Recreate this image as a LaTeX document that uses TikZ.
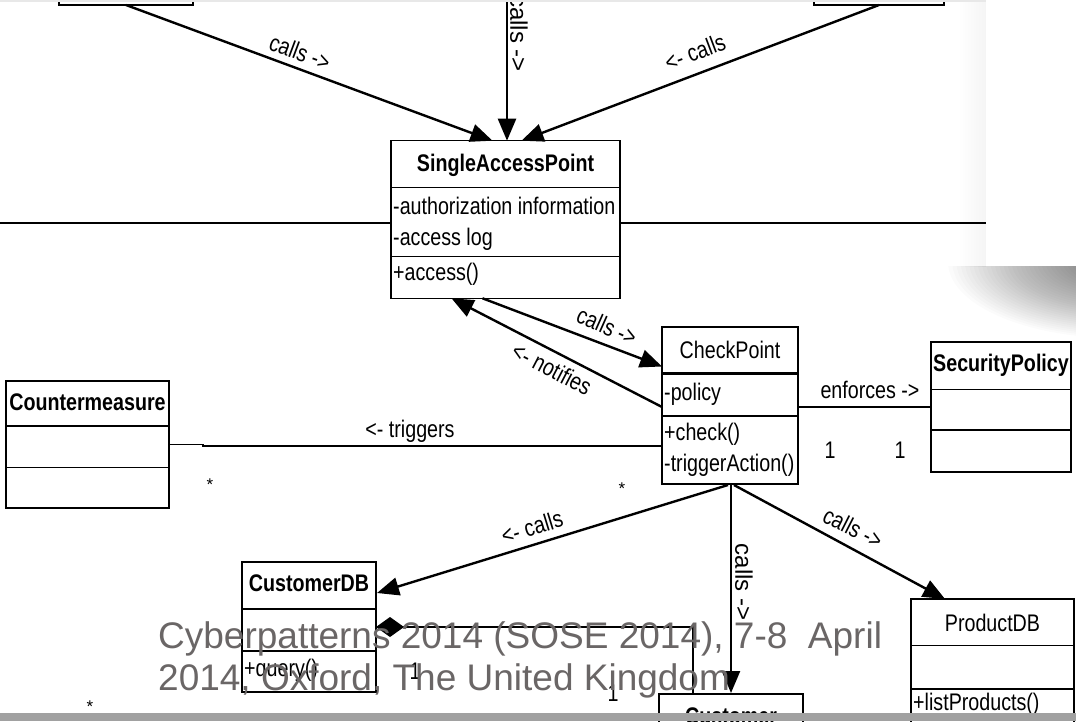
\documentclass[tikz,border=0pt]{standalone}
\usepackage{fontspec}
\setmainfont{Liberation Sans}
\newfontfamily\umlfont[FakeStretch=0.82]{Liberation Sans}
\usetikzlibrary{arrows.meta,calc}
\definecolor{wmgray}{RGB}{106,102,102}
\begin{document}
\begin{tikzpicture}[x=1pt,y=-1pt,
  cls/.style={draw=black, line width=1.4pt, inner sep=0pt, outer sep=0pt},
  div/.style={line width=1.4pt},
  txt/.style={font=\umlfont\fontsize{24}{28}\selectfont, inner sep=0pt, anchor=base west},
  ttl/.style={font=\umlfont\bfseries\fontsize{24}{28}\selectfont, inner sep=0pt, anchor=base},
  ttlr/.style={font=\umlfont\fontsize{24}{28}\selectfont, inner sep=0pt, anchor=base},
  lbl/.style={font=\umlfont\fontsize{24}{28}\selectfont, inner sep=0pt},
  vlbl/.style={font=\fontsize{24}{28}\selectfont, inner sep=0pt, rotate=-90},
  mult/.style={font=\fontsize{17}{18}\selectfont, inner sep=0pt},
  call/.style={line width=2.4pt, -{Triangle[length=22pt,width=18pt]}},
  assoc/.style={line width=1.4pt},
  comp/.style={line width=1.4pt, {Diamond[length=28pt,width=20pt]}-},
  wm/.style={font=\fontsize{37}{44}\selectfont, text=wmgray, inner sep=0pt, anchor=base west}
]
\useasboundingbox (0,0) rectangle (1076,721);
\clip (0,0) rectangle (1076,721);
\fill[white] (0,0) rectangle (1076,721);
% soft edge beside the card
\shade[left color=white, right color=black!4] (958,0) rectangle (986,266);

% ---- callers above the access point
\node[cls, minimum width=134pt, minimum height=50pt] (topL) at (126,-20) {};
\node[cls, minimum width=130pt, minimum height=50pt] (topR) at (879,-20) {};
\coordinate (topM) at (507,-10);

% ---- swim-lane separator
\coordinate (laneL) at (0,223);
\coordinate (laneR) at (986,223);

% ---- SingleAccessPoint
\node[cls, minimum width=229pt, minimum height=157.6pt] (sap) at (505.5,219.5) {};
\draw[div] (sap.west |- 0,187.3) -- (sap.east |- 0,187.3)
           (sap.west |- 0,256.7) -- (sap.east |- 0,256.7);
\node[ttl] at (505.5,171) {SingleAccessPoint};
\node[txt] at (393,214) {-authorization information};
\node[txt] at (393,245) {-access log};
\node[txt] at (393,280) {+access()};

\draw[div] (laneL) -- (laneL -| sap.west);
\draw[div] (laneR -| sap.east) -- (laneR);

% ---- CheckPoint
\node[cls, line width=2.6pt, minimum width=136pt, minimum height=157pt] (cp) at (730,405.5) {};
\draw[line width=2.4pt] (cp.west |- 0,373.3) -- (cp.east |- 0,373.3)
                        (cp.west |- 0,416) -- (cp.east |- 0,416);
\node[ttlr] at (730,358) {CheckPoint};
\node[txt] at (664,400) {-policy};
\node[txt] at (664,440) {+check()};
\node[txt] at (664,471.5) {-triggerAction()};

% ---- Countermeasure
\node[cls, minimum width=163pt, minimum height=127pt] (cm) at (87.5,444.5) {};
\draw[div] (cm.west |- 0,426) -- (cm.east |- 0,426)
           (cm.west |- 0,467.7) -- (cm.east |- 0,467.7);
\node[ttl] at (87.5,410.7) {Countermeasure};

% ---- SecurityPolicy
\node[cls, minimum width=140pt, minimum height=130pt] (sp) at (1001,407) {};
\draw[div] (sp.west |- 0,389.3) -- (sp.east |- 0,389.3)
           (sp.west |- 0,430) -- (sp.east |- 0,430);
\node[ttl] at (1001,371.7) {SecurityPolicy};

% ---- CustomerDB
\node[cls, minimum width=134pt, minimum height=130pt] (cdb) at (309,627) {};
\draw[div] (cdb.west |- 0,609) -- (cdb.east |- 0,609)
           (cdb.west |- 0,651) -- (cdb.east |- 0,651);
\node[ttl] at (309,591.7) {CustomerDB};
\node[txt] at (244,676.7) {+query()};

% ---- ProductDB
\node[cls, minimum width=163pt, minimum height=142pt] (pdb) at (992.5,670) {};
\draw[div] (pdb.west |- 0,645.7) -- (pdb.east |- 0,645.7)
           (pdb.west |- 0,689) -- (pdb.east |- 0,689);
\node[ttlr] at (992.5,631.7) {ProductDB};
\node[txt] at (913,710) {+listProducts()};

% ---- Customer
\node[cls, minimum width=144pt, minimum height=72pt] (cu) at (731,730) {};
\node[ttl] at (731,724) {Customer};

% ---- calls into the access point
\draw[call] (topL.south) -- ($(sap.north)+(-13,0)$);
\draw[call] (topM) -- ($(sap.north)+(1.5,0)$);
\draw[call] (topR.south) -- ($(sap.north)+(16,0)$);
\node[lbl, rotate=-20.5] at (300,52) {calls ->};
\node[vlbl, anchor=east] at (519,72) {calls ->};
\node[lbl, rotate=20.7] at (695,52) {<- calls};

% ---- access point <-> check point
\draw[call] ($(sap.south)+(-23,0)$) -- ($(cp.west)+(0,-39)$);
\draw[call] ($(cp.west)+(0,1.5)$) -- ($(sap.south)+(-54,0)$);
\node[lbl, rotate=-24] at (607,326) {calls ->};
\node[lbl, rotate=-27.5] at (552,369) {<- notifies};

% ---- triggers
\draw[assoc] (cm.east) -- ++(34,0) -- ++(0,1.5) coordinate (tk) -- (tk -| cp.west);
\node[lbl, anchor=base] at (410,437) {<- triggers};
\node[mult] at (210,485) {*};
\node[mult] at (622,489) {*};

% ---- enforces
\draw[assoc] ($(cp.east)+(0,1.5)$) coordinate (en) -- (en -| sp.west);
\node[lbl, anchor=base] at (870,398) {enforces ->};
\node[lbl, anchor=base] at (830,458) {1};
\node[lbl, anchor=base] at (900,458) {1};

% ---- calls out of the check point
\draw[call] ($(cp.south)+(-2,1)$) -- ($(cdb.east)+(1,-34)$);
\draw[call] ($(cp.south)+(1,1)$) -- ($(cu.north)+(0,-1)$);
\draw[call] ($(cp.south)+(4,1)$) -- ($(pdb.north west)+(34,0)$);
\node[lbl, rotate=17] at (532,527) {<- calls};
\node[vlbl] at (744,582) {calls ->};
\node[lbl, rotate=-27] at (853,528) {calls ->};

% ---- composition
\draw[comp] (cdb.east) -| ($(cu.north)+(-38,0)$);
\node[lbl, anchor=base] at (415,679) {1};
\node[lbl, anchor=base] at (613,701) {1};
\node[mult] at (90,707) {*};

% ---- footer text
\node[wm] at (158,648) {Cyberpatterns 2014 (SOSE 2014), 7-8\ \ April};
\node[wm] at (158,690) {2014, Oxford, The United Kingdom};

% ---- frame, card and its shadow
\fill[black!9] (0,0) rectangle (986,2);
\fill[white] (986,0) rectangle (1076,266);
\begin{scope}
  \clip (900,266) rectangle (1076,360);
  \foreach \i in {0,...,39}{
    \fill[black, opacity=0.017]
      (1118,262) ellipse [x radius={170*(1-\i/40)}, y radius={76*(1-\i/40)}];
  }
\end{scope}
\fill[black!37] (0,713) rectangle (1076,721);
\end{tikzpicture}
\end{document}
